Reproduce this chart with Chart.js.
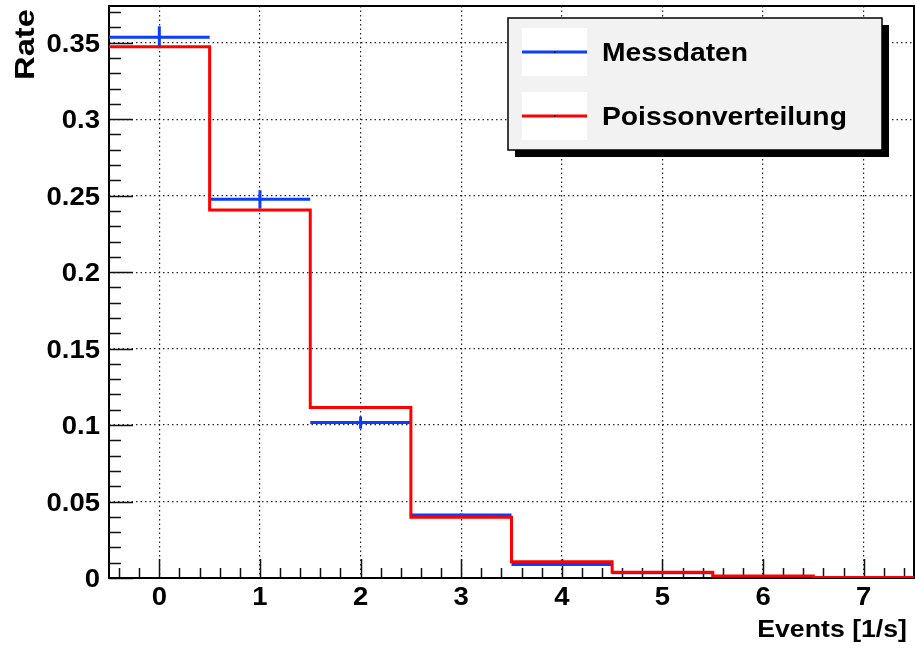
<!DOCTYPE html>
<html>
<head>
<meta charset="utf-8">
<script src="https://cdn.jsdelivr.net/npm/chart.js@4/dist/chart.umd.min.js"></script>
<style>
  html, body { margin: 0; padding: 0; background: #fff; }
  #wrap { width: 915px; height: 648px; position: relative; }
</style>
</head>
<body>
<div id="wrap"><canvas id="c" width="915" height="648"></canvas></div>
<script>
// Bin centres (events per second) and the two distributions
const binCenters   = [0, 1, 2, 3, 4, 5, 6, 7];
const measured     = [0.3535, 0.2476, 0.1016, 0.0412, 0.0089, 0.0035, null, null];
const measuredErr  = [0.0072, 0.0060, 0.0040, 0.0010, 0.0006, 0.0004, null, null];
const poisson      = [0.3474, 0.2406, 0.1114, 0.0397, 0.0107, 0.0037, 0.0013, 0.0003];

const seriesNames  = ['Messdaten', 'Poissonverteilung'];
const xTickValues  = [0, 1, 2, 3, 4, 5, 6, 7];
const xTickLabels  = ['0', '1', '2', '3', '4', '5', '6', '7'];
const yTickValues  = [0, 0.05, 0.1, 0.15, 0.2, 0.25, 0.3, 0.35];
const yTickLabels  = ['0', '0.05', '0.1', '0.15', '0.2', '0.25', '0.3', '0.35'];
const xTitle = 'Events [1/s]';
const yTitle = 'Rate';

const BLUE = '#0b3dff';
const RED = '#ff0000';
const FONT = '"Liberation Sans", Arial, Helvetica, sans-serif';
const HALF = 0.5; // half bin width

// Step outline for the expected distribution: flat over each bin, vertical between bins
const poissonPath = [];
binCenters.forEach((c, i) => {
  poissonPath.push({ x: c - HALF, y: poisson[i] });
  poissonPath.push({ x: c + HALF, y: poisson[i] });
});

// Measured data: one flat segment per filled bin (horizontal error = bin width)
const measuredPath = [];
const errorPath = [];
binCenters.forEach((c, i) => {
  if (measured[i] === null) return;
  measuredPath.push({ x: c - HALF, y: measured[i] });
  measuredPath.push({ x: c + HALF, y: measured[i] });
  measuredPath.push({ x: c + HALF, y: null });
  errorPath.push({ x: c, y: measured[i] - measuredErr[i] });
  errorPath.push({ x: c, y: measured[i] + measuredErr[i] });
  errorPath.push({ x: c, y: null });
});

function stretchedText(ctx, text, x, y, align, stretch) {
  ctx.save();
  ctx.translate(x, y);
  ctx.scale(stretch, 1);
  ctx.textAlign = align;
  ctx.textBaseline = 'alphabetic';
  ctx.fillText(text, 0, 0);
  ctx.restore();
}

// Frame, inward tick marks and labels in the style of a physics histogram
const framePlugin = {
  id: 'frame',
  beforeDatasetsDraw(chart) {
    const { ctx, chartArea: a, scales: { x, y } } = chart;
    ctx.save();
    ctx.strokeStyle = '#111';
    ctx.lineWidth = 1.5;
    ctx.beginPath();
    // x ticks: major every 1, minor every 0.2
    for (let k = Math.ceil(x.min * 5); k <= Math.floor(x.max * 5); k++) {
      const v = k / 5;
      const px = Math.round(x.getPixelForValue(v)) + 0.5;
      const len = (k % 5 === 0) ? 19 : 10;
      ctx.moveTo(px, a.bottom);
      ctx.lineTo(px, a.bottom - len);
    }
    // y ticks: major every 0.05, minor every 0.01
    for (let k = 0; k <= Math.floor(y.max * 100 + 1e-9); k++) {
      const v = k / 100;
      const py = Math.round(y.getPixelForValue(v)) + 0.5;
      const len = (k % 5 === 0) ? 24 : 12;
      ctx.moveTo(a.left, py);
      ctx.lineTo(a.left + len, py);
    }
    ctx.stroke();
    ctx.strokeStyle = '#000';
    ctx.lineWidth = 2;
    ctx.strokeRect(a.left, a.top, a.right - a.left, a.bottom - a.top);
    ctx.restore();
  },
  afterDraw(chart) {
    const { ctx, chartArea: a, scales: { x, y } } = chart;
    ctx.save();
    ctx.fillStyle = '#000';
    ctx.font = 'bold 25px ' + FONT;
    xTickValues.forEach((v, i) => {
      stretchedText(ctx, xTickLabels[i], x.getPixelForValue(v), a.bottom + 27, 'center', 1.1);
    });
    yTickValues.forEach((v, i) => {
      stretchedText(ctx, yTickLabels[i], a.left - 9, y.getPixelForValue(v) + 9, 'right', 1.1);
    });
    // axis titles
    ctx.font = 'bold 23px ' + FONT;
    stretchedText(ctx, xTitle, 907, 637, 'right', 1.16);
    ctx.save();
    ctx.translate(34, 9);
    ctx.rotate(-Math.PI / 2);
    ctx.font = 'bold 28px ' + FONT;
    stretchedText(ctx, yTitle, 0, 0, 'right', 1.17);
    ctx.restore();

    // legend box with drop shadow
    const bx = 508, by = 18, bw = 374, bh = 132;
    ctx.fillStyle = '#000';
    ctx.fillRect(bx + 7, by + 7, bw, bh);
    ctx.fillStyle = '#f2f2f2';
    ctx.fillRect(bx, by, bw, bh);
    ctx.strokeStyle = '#000';
    ctx.lineWidth = 1.5;
    ctx.strokeRect(bx, by, bw, bh);
    const entries = [chart.data.datasets[1], chart.data.datasets[0]];
    entries.forEach((ds, i) => {
      const rowY = by + 34 + i * 64;
      ctx.fillStyle = '#fff';
      ctx.fillRect(522, rowY - 24, 65, 48);
      ctx.strokeStyle = ds.borderColor;
      ctx.lineWidth = 3;
      ctx.beginPath();
      ctx.moveTo(522, rowY);
      ctx.lineTo(587, rowY);
      ctx.stroke();
      ctx.fillStyle = '#000';
      ctx.fillRect(554, rowY - 0.5, 1.5, 1.5);
      ctx.font = 'bold 25px ' + FONT;
      stretchedText(ctx, ds.label, 602, rowY + 9, 'left', 1.13);
    });
    ctx.restore();
  }
};

new Chart(document.getElementById('c'), {
  type: 'line',
  data: {
    datasets: [
      {
        label: seriesNames[1],
        data: poissonPath,
        borderColor: RED,
        borderWidth: 3,
        pointRadius: 0,
        tension: 0,
        fill: false,
        order: 0
      },
      {
        label: seriesNames[0],
        data: measuredPath,
        borderColor: BLUE,
        borderWidth: 3,
        pointRadius: 0,
        tension: 0,
        spanGaps: false,
        fill: false,
        order: 1
      },
      {
        label: seriesNames[0] + ' error',
        data: errorPath,
        borderColor: BLUE,
        borderWidth: 3,
        pointRadius: 0,
        tension: 0,
        spanGaps: false,
        fill: false,
        order: 1
      }
    ]
  },
  options: {
    responsive: false,
    animation: false,
    parsing: true,
    layout: { padding: { top: 6, right: 1, left: 0, bottom: 0 } },
    plugins: { legend: { display: false }, tooltip: { enabled: false } },
    scales: {
      x: {
        type: 'linear',
        min: -0.5,
        max: 7.5,
        afterBuildTicks: (s) => { s.ticks = xTickValues.map(v => ({ value: v })); },
        afterFit: (s) => { s.height = 70; },
        ticks: { display: false },
        grid: { color: 'rgba(0,0,0,0.85)', lineWidth: 1.2, drawTicks: false },
        border: { display: false, dash: [1.5, 3] }
      },
      y: {
        type: 'linear',
        min: 0,
        max: 0.374,
        afterBuildTicks: (s) => { s.ticks = yTickValues.map(v => ({ value: v })); },
        afterFit: (s) => { s.width = 109; },
        ticks: { display: false },
        grid: { color: 'rgba(0,0,0,0.85)', lineWidth: 1.2, drawTicks: false },
        border: { display: false, dash: [1.5, 3] }
      }
    }
  },
  plugins: [framePlugin]
});
</script>
</body>
</html>
